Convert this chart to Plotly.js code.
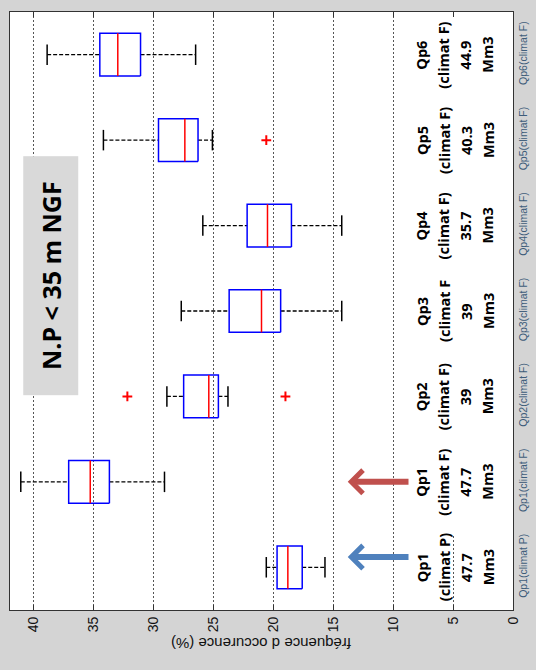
<!DOCTYPE html>
<html>
<head>
<meta charset="utf-8">
<script src="https://cdn.plot.ly/plotly-3.0.1.min.js"></script>
<style>
  body { margin: 0; background: #d4d4d4; }
  #myPlot { width: 536px; height: 670px; }
</style>
</head>
<body>
<div id="myPlot"></div>
<script>
// categories, bottom to top once the chart is turned on its side
const categories = ['Qp1(climat P)', 'Qp1(climat F)', 'Qp2(climat F)', 'Qp3(climat F)', 'Qp4(climat F)', 'Qp5(climat F)', 'Qp6(climat F)'];
// box statistics (fréquence d occurence, %)
const lowerWhisker = [15.7, 29.1, 23.8, 14.3, 14.3, 25.1, 26.5];
const q1Values     = [17.6, 33.7, 24.6, 19.4, 18.5, 26.3, 31.1];
const medians      = [18.8, 35.3, 25.4, 21.0, 20.5, 27.4, 33.0];
const q3Values     = [19.7, 37.1, 27.5, 23.7, 22.2, 29.6, 34.5];
const upperWhisker = [20.6, 41.1, 28.9, 27.7, 25.9, 34.2, 38.9];
// outliers: category index and value
const outlierCat   = [2, 2, 5];
const outlierVals  = [32.2, 19.0, 20.6];
// text next to each box
const qpNames  = ['Qp1', 'Qp1', 'Qp2', 'Qp3', 'Qp4', 'Qp5', 'Qp6'];
const climats  = ['(climat P)', '(climat F)', '(climat F)', '(climat F', '(climat F)', '(climat F)', '(climat F)'];
const volumes  = ['47.7', '47.7', '39', '39', '35.7', '40.3', '44.9'];
const volUnit  = 'Mm3';
const xTicks   = [0, 5, 10, 15, 20, 25, 30, 35, 40];

const halfBox = 0.25;   // half box thickness in category units
const halfCap = 0.12;   // half whisker cap

// build the line segments of all the boxes, separated by nulls
let boxX = [], boxY = [];
let medX = [], medY = [];
let whiskX = [], whiskY = [];
let capX = [], capY = [];
categories.forEach(function(cat, i) {
    const pos = i + 1;
    boxX.push(q1Values[i], q3Values[i], q3Values[i], q1Values[i], q1Values[i], null);
    boxY.push(pos - halfBox, pos - halfBox, pos + halfBox, pos + halfBox, pos - halfBox, null);
    medX.push(medians[i], medians[i], null);
    medY.push(pos - halfBox, pos + halfBox, null);
    whiskX.push(upperWhisker[i], q3Values[i], null, q1Values[i], lowerWhisker[i], null);
    whiskY.push(pos, pos, null, pos, pos, null);
    capX.push(upperWhisker[i], upperWhisker[i], null, lowerWhisker[i], lowerWhisker[i], null);
    capY.push(pos - halfCap, pos + halfCap, null, pos - halfCap, pos + halfCap, null);
});

const traceWhisk = { x: whiskX, y: whiskY, mode: 'lines', type: 'scatter',
    line: { color: '#000', width: 1.3, dash: '4px,2px' }, hoverinfo: 'skip' };
const traceCap = { x: capX, y: capY, mode: 'lines', type: 'scatter',
    line: { color: '#000', width: 1.5 }, hoverinfo: 'skip' };
const traceBox = { x: boxX, y: boxY, mode: 'lines', type: 'scatter',
    line: { color: '#0000ff', width: 1.5 }, hoverinfo: 'skip' };
const traceMed = { x: medX, y: medY, mode: 'lines', type: 'scatter',
    line: { color: '#ff0000', width: 1.5 }, hoverinfo: 'skip' };
const traceOut = { x: outlierVals, y: outlierCat.map(function(c) { return c + 1; }),
    mode: 'markers', type: 'scatter',
    marker: { symbol: 'cross-thin', size: 7, color: '#ff0000', line: { color: '#ff0000', width: 2 } } };

const data = [traceWhisk, traceCap, traceBox, traceMed, traceOut];

// annotations: one per text line so the line spacing can follow the picture
const lineShift = [-33, -11, 11, 33];
let annotations = [];
categories.forEach(function(cat, i) {
    const lines = [qpNames[i], climats[i], volumes[i], volUnit];
    lines.forEach(function(txt, j) {
        annotations.push({
            x: 4.85, y: i + 1, xref: 'x', yref: 'y',
            text: '<b>' + txt + '</b>', showarrow: false, textangle: -90,
            xshift: lineShift[j],
            font: { family: 'Open Sans', size: 14.5, color: '#000' }
        });
    });
});

// the two arrows pointing at the Qp1 boxes
annotations.push({ x: 13.8, y: 1.12, ax: 8.6, ay: 1.12, xref: 'x', yref: 'y', axref: 'x', ayref: 'y',
    text: '', showarrow: true, arrowhead: 4, arrowsize: 0.75, arrowwidth: 6, arrowcolor: '#4f81bd' });
annotations.push({ x: 13.8, y: 2.0, ax: 8.6, ay: 2.0, xref: 'x', yref: 'y', axref: 'x', ayref: 'y',
    text: '', showarrow: true, arrowhead: 4, arrowsize: 0.75, arrowwidth: 6, arrowcolor: '#c0504d' });

// N.P label in its grey box
annotations.push({ x: 38.6, y: 4.41, xref: 'x', yref: 'y', text: '<b>N.P &lt; 35 m NGF</b>',
    showarrow: false, textangle: -90, width: 236, height: 52, bgcolor: '#d9d9d9',
    font: { family: 'Open Sans', size: 25, color: '#000' } });

// value axis title, turned upside down like the picture
annotations.push({ x: 0.5, y: -0.055, xref: 'paper', yref: 'paper', text: 'fréquence d occurence (%)',
    showarrow: false, textangle: 180, yanchor: 'middle',
    font: { family: 'Liberation Sans', size: 15, color: '#111' } });

const layout = {
    width: 536, height: 670,
    margin: { l: 10, r: 23, t: 12, b: 60, pad: 0 },
    paper_bgcolor: '#d4d4d4',
    plot_bgcolor: '#ffffff',
    showlegend: false,
    font: { family: 'Liberation Sans', color: '#111' },
    xaxis: {
        range: [42, 0],
        tickvals: xTicks,
        ticktext: xTicks.map(String),
        tickangle: -90,
        tickfont: { size: 14 },
        ticks: 'inside', ticklen: 5, tickcolor: '#333',
        showline: true, linecolor: '#333', linewidth: 1, mirror: 'ticks',
        showgrid: true, gridcolor: '#555', griddash: '2px,2px', gridwidth: 1,
        zeroline: false
    },
    yaxis: {
        range: [0.5, 7.5],
        tickvals: categories.map(function(c, i) { return i + 1; }),
        ticktext: categories,
        side: 'right',
        tickangle: -90,
        tickfont: { size: 10.5, color: '#3d5c7a' },
        ticks: '',
        showline: true, linecolor: '#333', linewidth: 1, mirror: true,
        showgrid: false, zeroline: false
    },
    shapes: [
        // white panel behind the box labels, hides the grid there
        { type: 'rect', xref: 'x', yref: 'y', x0: 9.4, x1: 0.1, y0: 1.39, y1: 7.5,
          fillcolor: '#ffffff', line: { width: 0 }, layer: 'between' }
    ],
    annotations: annotations
};

Plotly.newPlot(document.getElementById('myPlot'), data, layout, { staticPlot: true });
</script>
</body>
</html>
